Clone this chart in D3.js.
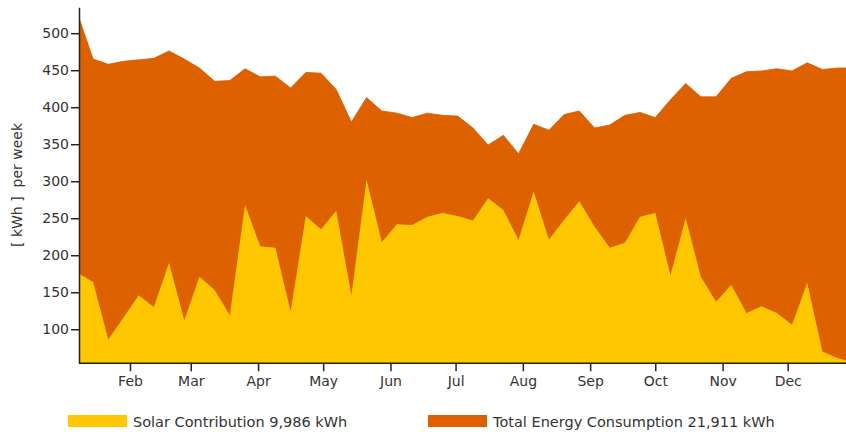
<!DOCTYPE html>
<meta charset="utf-8">
<script src="https://d3js.org/d3.v7.min.js"></script>
<style>
  body { margin: 0; background: #fff; }
  text { font-family: "DejaVu Sans", Verdana, sans-serif; fill: #333; }
</style>
<div id="chart"></div>
<script>
// weekly values, first week ends Jan 8
const totalUse = [525, 465, 458, 462, 464, 466, 476, 465, 453, 435, 436, 452, 441, 442, 426, 447, 446, 424, 380, 413,
  395, 392, 386, 392, 389, 388, 372, 349, 362, 337, 377, 369, 390, 395, 372, 376, 389, 393, 386, 410,
  432, 414, 414, 439, 448, 449, 452, 449, 460, 451, 453, 453];
const solar = [176, 164, 86, 116, 146, 130, 190, 112, 171, 153, 119, 268, 212, 210, 124, 253, 235, 260, 146, 302,
  218, 242, 241, 252, 257, 253, 247, 277, 261, 221, 286, 221, 248, 273, 239, 210, 217, 252, 257, 173,
  250, 171, 137, 160, 122, 131, 122, 106, 163, 70, 61, 55];
const yTicks = [100, 150, 200, 250, 300, 350, 400, 450, 500];
const legendItems = ["Solar Contribution 9,986 kWh", "Total Energy Consumption 21,911 kWh"];

const width = 846, height = 432;
const plotLeft = 79, plotRight = 846, plotTop = 7.3, plotBottom = 363.3;

const weeks = totalUse.map((d, i) => d3.timeDay.offset(new Date(2023, 0, 8), 7 * i));
const rows = weeks.map((w, i) => ({ date: w, total: totalUse[i], solar: solar[i] }));

const svg = d3.select("#chart").append("svg")
  .attr("width", width)
  .attr("height", height);

const x = d3.scaleTime()
  .domain([new Date(2023, 0, 1), new Date(2024, 0, 1)])
  .range([62.7, 62.7 + 365 * 2.1706]);

const y = d3.scaleLinear()
  .domain([54, 535])
  .range([plotBottom, plotTop]);

svg.append("clipPath").attr("id", "plot")
  .append("rect")
  .attr("x", plotLeft).attr("y", 0)
  .attr("width", plotRight - plotLeft).attr("height", plotBottom);

const area = key => d3.area()
  .x(d => x(d.date))
  .y0(plotBottom)
  .y1(d => y(d[key]));

const g = svg.append("g").attr("clip-path", "url(#plot)");

g.append("path")
  .datum(rows)
  .attr("d", area("total"))
  .attr("fill", "#de6100")
  .attr("stroke", "#d35c02")
  .attr("stroke-width", 0.8);

g.append("path")
  .datum(rows)
  .attr("d", area("solar"))
  .attr("fill", "#fec700");

// y axis
const yAxis = svg.append("g")
  .attr("transform", `translate(${plotLeft},0)`)
  .call(d3.axisLeft(y).tickValues(yTicks).tickSize(8).tickPadding(2).tickSizeOuter(0));
yAxis.selectAll("text").style("font-size", "14px").attr("fill", "#333");
yAxis.selectAll("line, path").attr("stroke", "#222").attr("stroke-width", 1.5);

// x axis, month ticks Feb..Dec
const months = d3.timeMonth.range(new Date(2023, 1, 1), new Date(2023, 11, 2));
const xAxis = svg.append("g")
  .attr("transform", `translate(0,${plotBottom})`)
  .call(d3.axisBottom(x).tickValues(months).tickFormat(d3.timeFormat("%b")).tickSize(8).tickPadding(5));
xAxis.select(".domain").remove();
xAxis.selectAll("text").style("font-size", "14px").attr("fill", "#333");
xAxis.selectAll("line").attr("stroke", "#222").attr("stroke-width", 1.5);
xAxis.append("line")
  .attr("x1", plotLeft).attr("x2", plotRight)
  .attr("stroke", "#222").attr("stroke-width", 1.5);

// y axis title
svg.append("text")
  .attr("transform", "translate(22,185) rotate(-90)")
  .attr("text-anchor", "middle")
  .style("font-size", "14px")
  .style("white-space", "pre")
  .text("[ kWh ]  per week");

// legend
const legend = svg.append("g");
const legendX = [68, 428];
const legendColors = ["#fec700", "#de6100"];
legendItems.forEach((t, i) => {
  legend.append("rect")
    .attr("x", legendX[i]).attr("y", 415)
    .attr("width", 59).attr("height", 12)
    .attr("fill", legendColors[i]);
  legend.append("text")
    .attr("x", legendX[i] + 65).attr("y", 426.5)
    .style("font-size", "14.5px")
    .text(t);
});
</script>
